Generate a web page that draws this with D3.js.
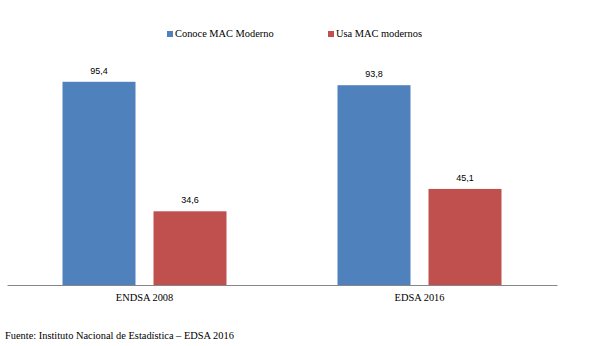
<!DOCTYPE html>
<html>
<head>
<meta charset="utf-8">
<script src="https://cdn.jsdelivr.net/npm/d3@7"></script>
<style>
  body { margin: 0; background: #fff; }
  text { font-family: "Liberation Serif", "Times New Roman", serif; }
</style>
</head>
<body>
<div id="chart"></div>
<script>
var categories = ["ENDSA 2008", "EDSA 2016"];
var seriesNames = ["Conoce MAC Moderno", "Usa MAC modernos"];
var conoceValues = [95.4, 93.8];
var usaValues = [34.6, 45.1];
var colors = ["#4F81BD", "#C0504D"];

var W = 589, H = 346;
var svg = d3.select("#chart").append("svg")
    .attr("width", W)
    .attr("height", H);

var x0 = d3.scaleBand()
    .domain(categories)
    .range([7, 557]);

var x1 = d3.scaleBand()
    .domain(seriesNames)
    .range([55.5, 275 - 55.5])
    .paddingInner(18 / 91);

var y = d3.scaleLinear()
    .domain([0, 100])
    .range([285, 72]);

var rows = categories.map(function(c, i) {
  return { cat: c, vals: [conoceValues[i], usaValues[i]] };
});

var groups = svg.append("g").selectAll("g")
  .data(rows)
  .enter().append("g")
    .attr("transform", function(d) { return "translate(" + x0(d.cat) + ",0)"; });

groups.selectAll("rect")
  .data(function(d) { return d.vals.map(function(v, j) { return { s: seriesNames[j], v: v, j: j }; }); })
  .enter().append("rect")
    .attr("x", function(d) { return x1(d.s); })
    .attr("y", function(d) { return y(d.v); })
    .attr("width", x1.bandwidth())
    .attr("height", function(d) { return y(0) - y(d.v); })
    .attr("fill", function(d) { return colors[d.j]; });

groups.selectAll("text.val")
  .data(function(d) { return d.vals.map(function(v, j) { return { s: seriesNames[j], v: v }; }); })
  .enter().append("text")
    .attr("class", "val")
    .attr("x", function(d) { return x1(d.s) + x1.bandwidth() / 2; })
    .attr("y", function(d) { return y(d.v) - 8; })
    .attr("text-anchor", "middle")
    .style("font-family", "'Liberation Sans', Arial, sans-serif")
    .attr("font-size", "9px")
    .attr("fill", "#000")
    .text(function(d) { return d3.format(".1f")(d.v).replace(".", ","); });

// x axis
var xAxis = svg.append("g")
    .attr("transform", "translate(0,285)")
    .call(d3.axisBottom(x0).tickSize(0).tickPadding(9));
xAxis.select(".domain").attr("stroke", "#868686");
xAxis.selectAll("text")
    .style("font-family", "'Liberation Serif', 'Times New Roman', serif")
    .attr("font-size", "10.4px")
    .attr("fill", "#000");

// legend
var legendX = [167, 328];
var legend = svg.append("g").selectAll("g")
  .data(seriesNames)
  .enter().append("g")
    .attr("transform", function(d, i) { return "translate(" + legendX[i] + ",31)"; });
legend.append("rect")
    .attr("width", 6)
    .attr("height", 6)
    .attr("fill", function(d, i) { return colors[i]; });
legend.append("text")
    .attr("x", 8)
    .attr("y", 6)
    .attr("font-size", "10.4px")
    .attr("fill", "#000")
    .text(function(d) { return d; });

svg.append("text")
    .attr("x", 5)
    .attr("y", 339)
    .attr("font-size", "10.4px")
    .attr("fill", "#000")
    .text("Fuente: Instituto Nacional de Estadística – EDSA 2016");
</script>
</body>
</html>
